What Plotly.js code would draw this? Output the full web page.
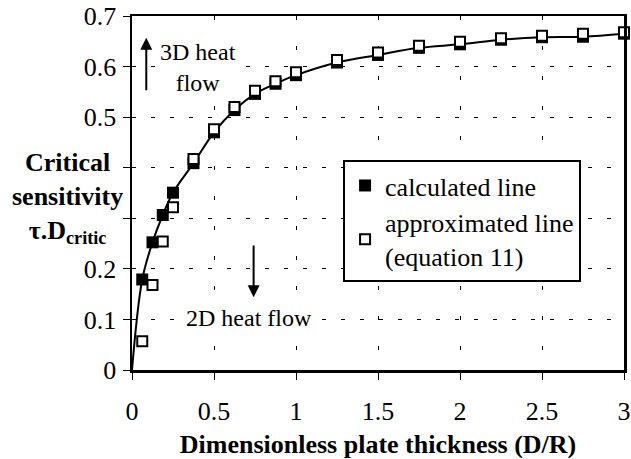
<!DOCTYPE html>
<html>
<head>
<meta charset="utf-8">
<script src="https://cdn.plot.ly/plotly-3.0.1.min.js"></script>
<style>html,body{margin:0;padding:0;background:#fff;}#chart{width:631px;height:459px;}</style>
</head>
<body>
<div id="chart"></div>
<script>
// Dimensionless plate thickness (D/R)
var thickness = [0.0625, 0.125, 0.1875, 0.25, 0.375, 0.5, 0.625, 0.75, 0.875, 1, 1.25, 1.5, 1.75, 2, 2.25, 2.5, 2.75, 3];
// Critical sensitivity, calculated line
var calculated = [0.179, 0.2525, 0.3065, 0.3506, 0.409, 0.470, 0.514, 0.546, 0.566, 0.583, 0.608, 0.623, 0.637, 0.644, 0.653, 0.658, 0.659, 0.665];
// Critical sensitivity, approximated line (equation 11)
var approximated = [0.057, 0.168, 0.254, 0.322, 0.417, 0.476, 0.520, 0.552, 0.571, 0.589, 0.613, 0.628, 0.641, 0.649, 0.656, 0.661, 0.665, 0.668];
// origin of the calculated curve
var originX = [0];
var originY = [0];

var xTickVals = [0, 0.5, 1, 1.5, 2, 2.5, 3];
var xTickText = ['0', '0.5', '1', '1.5', '2', '2.5', '3'];
var yTickVals = [0, 0.1, 0.2, 0.3, 0.4, 0.5, 0.6, 0.7];
// 0.3 and 0.4 are hidden behind the axis title in the reference
var yTickText = ['0', '0.1', '0.2', '', '', '0.5', '0.6', '0.7'];

var FONT = "'Liberation Serif', 'Times New Roman', serif";

var traces = [
  {
    x: originX.concat(thickness),
    y: originY.concat(calculated),
    mode: 'lines',
    line: {color: '#000', width: 2, shape: 'spline', smoothing: 1},
    showlegend: false,
    hoverinfo: 'skip'
  },
  {
    x: thickness, y: calculated,
    mode: 'markers', name: 'calculated line',
    marker: {symbol: 'square', size: 12, color: '#000', line: {width: 0}},
    cliponaxis: false
  },
  {
    x: thickness, y: approximated,
    mode: 'markers', name: 'approximated line<br>(equation 11)',
    marker: {symbol: 'square', size: 10, color: '#fff', line: {width: 2, color: '#000'}},
    cliponaxis: false
  }
];

var layout = {
  width: 631, height: 459,
  margin: {l: 132, r: 7, t: 16, b: 89},
  paper_bgcolor: '#fff', plot_bgcolor: '#fff',
  font: {family: FONT, size: 26, color: '#000'},
  showlegend: true,
  legend: {
    x: 0.429, y: 0.593, xanchor: 'left', yanchor: 'top',
    bgcolor: '#fff', bordercolor: '#000', borderwidth: 2,
    font: {family: FONT, size: 26, color: '#000'},
    itemwidth: 30
  },
  xaxis: {
    range: [0, 3], tickvals: xTickVals, ticktext: xTickText,
    ticks: 'outside', ticklen: 7, tickwidth: 1, tickcolor: '#000',
    ticklabelstandoff: 9,
    showline: true, linewidth: 2.5, linecolor: '#000', mirror: true,
    showgrid: true, gridcolor: '#000', gridwidth: 1, griddash: '4px,26px',
    zeroline: false,
    tickfont: {family: FONT, size: 26, color: '#000'},
    title: {text: '<b>Dimensionless plate thickness (D/R)</b>', font: {family: FONT, size: 26, color: '#000'}, standoff: 20}
  },
  yaxis: {
    range: [0, 0.7], tickvals: yTickVals, ticktext: yTickText,
    ticks: 'outside', ticklen: 7, tickwidth: 1, tickcolor: '#000',
    ticklabelstandoff: 1,
    showline: true, linewidth: 2.5, linecolor: '#000', mirror: true,
    showgrid: true, gridcolor: '#000', gridwidth: 1, griddash: '4px,15px',
    zeroline: false,
    tickfont: {family: FONT, size: 26, color: '#000'}
  },
  annotations: [
    {
      xref: 'paper', yref: 'paper', x: -0.1315, y: 0.485, xanchor: 'center', yanchor: 'middle',
      text: '<b>Critical<br>sensitivity<br>τ.D<sub>critic</sub></b>', showarrow: false,
      font: {family: FONT, size: 26, color: '#000'}
    },
    {
      xref: 'x', yref: 'y', x: 0.404, y: 0.598, text: '3D heat<br>flow', showarrow: false,
      bgcolor: '#fff', font: {family: FONT, size: 24, color: '#000'}
    },
    {
      xref: 'x', yref: 'y', x: 0.715, y: 0.103, text: '2D heat flow', showarrow: false,
      bgcolor: '#fff', font: {family: FONT, size: 24, color: '#000'}
    },
    {
      xref: 'x', yref: 'y', x: 0.087, y: 0.657, axref: 'x', ayref: 'y', ax: 0.087, ay: 0.550,
      text: '', showarrow: true, arrowhead: 2, arrowsize: 1.2, arrowwidth: 2, arrowcolor: '#000', standoff: 0, startstandoff: 0
    },
    {
      xref: 'x', yref: 'y', x: 0.7415, y: 0.144, axref: 'x', ayref: 'y', ax: 0.7415, ay: 0.249,
      text: '', showarrow: true, arrowhead: 2, arrowsize: 1.2, arrowwidth: 2, arrowcolor: '#000', standoff: 0, startstandoff: 0
    }
  ]
};

Plotly.newPlot('chart', traces, layout, {displayModeBar: false, staticPlot: true});
</script>
</body>
</html>
